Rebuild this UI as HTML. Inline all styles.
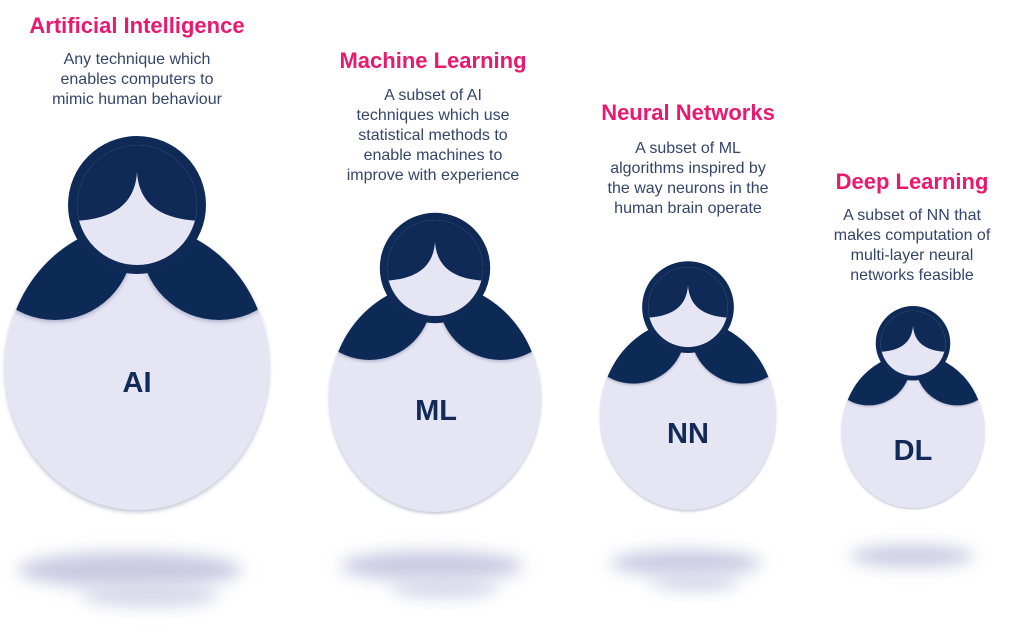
<!DOCTYPE html>
<html><head><meta charset="utf-8"><style>
html,body{margin:0;padding:0;background:#fff;width:1024px;height:632px;overflow:hidden}
svg{display:block}
.t{font-family:"Liberation Sans",sans-serif;font-weight:bold;fill:#e8196f;font-size:22px;text-anchor:middle}
.d{font-family:"Liberation Sans",sans-serif;fill:#34456b;font-size:16px;text-anchor:middle}
.l{font-family:"Liberation Sans",sans-serif;font-weight:bold;fill:#112a58;font-size:29px;text-anchor:middle}
</style></head><body>
<svg width="1024" height="632" viewBox="0 0 1024 632" xmlns="http://www.w3.org/2000/svg">
<defs>
<clipPath id="bc"><ellipse cx="0" cy="-143" rx="132" ry="143"/></clipPath>
<clipPath id="fc"><circle cx="0" cy="-305" r="60"/></clipPath>
<filter id="bl" x="-50%" y="-100%" width="200%" height="300%"><feGaussianBlur stdDeviation="8"/></filter>
<filter id="ds" x="-20%" y="-20%" width="140%" height="140%"><feDropShadow dx="0" dy="2" stdDeviation="2" flood-color="#6a7598" flood-opacity="0.45"/></filter>
<g id="doll">
<ellipse cx="0" cy="-143" rx="132" ry="143" fill="#e5e5f4" filter="url(#ds)"/>
<g clip-path="url(#bc)" filter="url(#ds)">
<circle cx="-82" cy="-268" r="78" fill="#0f2a57"/>
<circle cx="82" cy="-268" r="78" fill="#0f2a57"/>
</g>
<circle cx="0" cy="-305" r="69" fill="#0f2a57"/>
<circle cx="0" cy="-305" r="60" fill="#e5e5f4"/>
<g clip-path="url(#fc)">
<path d="M-70,-289 C-25,-289 -2,-305 0,-338 C2,-305 25,-289 70,-289 L70,-380 L-70,-380 Z" fill="#0f2a57"/>
</g>
</g>
</defs>
<!-- shadows -->
<ellipse cx="130" cy="570" rx="112" ry="18" fill="#c9cbe3" filter="url(#bl)"/>
<ellipse cx="150" cy="595" rx="70" ry="12" fill="#d6d8ea" filter="url(#bl)"/>
<ellipse cx="432" cy="566" rx="92" ry="15" fill="#c9cbe3" filter="url(#bl)"/>
<ellipse cx="445" cy="588" rx="55" ry="10" fill="#d6d8ea" filter="url(#bl)"/>
<ellipse cx="686" cy="563" rx="76" ry="13" fill="#c9cbe3" filter="url(#bl)"/>
<ellipse cx="695" cy="582" rx="45" ry="9" fill="#d6d8ea" filter="url(#bl)"/>
<ellipse cx="912" cy="556" rx="62" ry="11" fill="#c9cbe3" filter="url(#bl)"/>

<use href="#doll" transform="translate(137,510)"/>
<use href="#doll" transform="translate(435,512) scale(0.80)"/>
<use href="#doll" transform="translate(688,510) scale(0.665)"/>
<use href="#doll" transform="translate(913,508) scale(0.54)"/>

<text class="l" x="137" y="392">AI</text>
<text class="l" x="436" y="420">ML</text>
<text class="l" x="688" y="443">NN</text>
<text class="l" x="913" y="460">DL</text>

<text class="t" x="137" y="33">Artificial Intelligence</text>
<text class="d" x="137" y="64">Any technique which</text>
<text class="d" x="137" y="84">enables computers to</text>
<text class="d" x="137" y="104">mimic human behaviour</text>

<text class="t" x="433" y="68">Machine Learning</text>
<text class="d" x="433" y="100">A subset of AI</text>
<text class="d" x="433" y="120">techniques which use</text>
<text class="d" x="433" y="140">statistical methods to</text>
<text class="d" x="433" y="160">enable machines to</text>
<text class="d" x="433" y="180">improve with experience</text>

<text class="t" x="688" y="120">Neural Networks</text>
<text class="d" x="688" y="153">A subset of ML</text>
<text class="d" x="688" y="173">algorithms inspired by</text>
<text class="d" x="688" y="193">the way neurons in the</text>
<text class="d" x="688" y="213">human brain operate</text>

<text class="t" x="912" y="189">Deep Learning</text>
<text class="d" x="912" y="220">A subset of NN that</text>
<text class="d" x="912" y="240">makes computation of</text>
<text class="d" x="912" y="260">multi-layer neural</text>
<text class="d" x="912" y="280">networks feasible</text>
</svg>
</body></html>
